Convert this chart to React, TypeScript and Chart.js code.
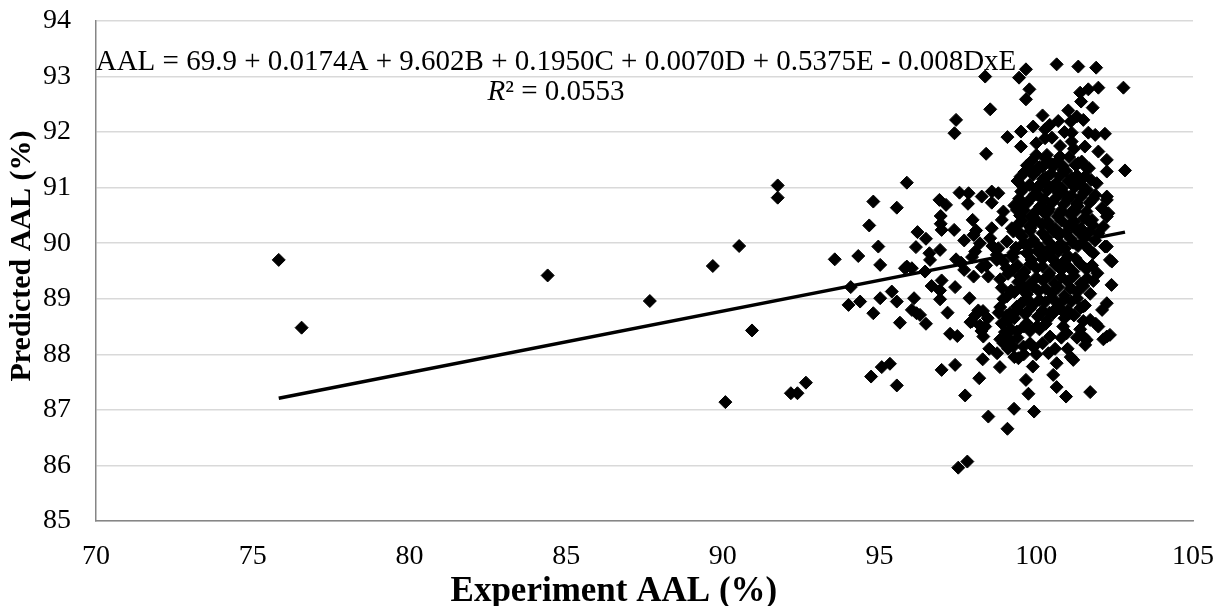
import React, { useEffect, useRef } from "react";
import { Chart, registerables } from "chart.js";

Chart.register(...registerables);

// ---- Data ----
const xTickValues = [70, 75, 80, 85, 90, 95, 100, 105];
const yTickValues = [85, 86, 87, 88, 89, 90, 91, 92, 93, 94];

const experimentAAL = [
  // scattered low-x points
  75.83, 76.56, 84.41, 87.67, 89.68, 90.52, 91.75, 91.75, 90.93, 90.08, 92.17, 92.38, 92.65, 93.57, 94.08,
  // upper left part of cluster
  98.37, 99.45, 99.67, 98.53, 97.44, 97.39, 99.08, 99.51, 99.51, 98.4, 95.87, 94.8, 95.55, 94.67, 94.96, 94.32,
  96.21, 96.48, 96.16, 96.59, 96.91, 97.12, 97.55, 97.84, 97.82, 98.26, 98.58, 98.79, 98.58, 96.95, 96.98, 97.38,
  97.97, 98.08, 98.58, 98.95, 98.9, 99.22, 98.53, 98.05, 99.06, 96.93, 97.44, 95.02, 95.87, 98.74, 99.27, 98.74,
  96.61, 96.95, 98.26, 98.47, 98.74, 98.95, 98.79, 99.06, 99.48, 99.59, 99.38, 99.16,
  97.6, 97.95, 98.4, 98.6, 98.2, 97.7, 98.0,
  // lower left part of cluster
  95.81, 96.03, 96.45, 95.39, 95.55, 95.02, 94.01, 94.38, 94.8, 95.65, 96.1, 96.03, 96.29, 96.48, 96.66, 96.98,
  96.93, 96.93, 97.41, 97.17, 97.25, 97.48, 97.87, 98.0, 97.7, 97.9, 98.05, 98.2, 98.3, 98.15, 98.25, 98.45,
  98.5, 98.75, 98.95, 98.85, 99.1, 99.3, 94.73, 95.07, 95.33, 95.55, 96.98, 97.41, 98.29, 98.18, 97.73, 98.84,
  98.47, 99.08, 99.29, 97.51, 97.8, 98.85, 99.05, 99.2, 99.1, 98.95, 96.18, 97.94, 98.37, 98.31,
  98.9, 99.1, 98.95, 99.2, 99.0, 99.15, 99.3, 98.8, 99.25, 99.05, 98.85, 99.4, 99.6, 99.8, 100.0, 100.2,
  100.6, 100.8, 101.0, 101.3, 101.1,
  // lower right part of cluster
  102.4, 102.25, 102.35, 102.14, 101.61, 101.56, 101.18, 101.72, 100.95, 100.65, 100.54, 100.65, 100.39, 99.89,
  99.67, 99.75, 99.93, 99.43, 99.91, 99.27, 99.6, 99.8, 100.1, 100.3, 100.8, 100.9, 101.2, 101.5, 101.9, 101.4,
  102.1, 98.9, 99.06, 99.38, 99.7, 100.02, 100.34, 100.44, 99.59, 100.86, 100.54, 101.07, 101.5, 101.72, 101.98,
  101.5, 102.25, 100.97, 102.19, 102.41, 102.25, 102.3, 102.14,
  // upper right part of cluster
  100.65, 101.34, 101.91, 102.78, 101.98, 101.66, 101.4, 101.43, 101.8, 101.02, 101.29, 101.5, 100.43, 100.28,
  101.1, 102.19, 101.66, 101.88, 101.13, 100.28, 100.76, 101.13, 101.55, 100.0, 100.34, 100.76, 101.98, 102.25,
  101.34, 102.83, 102.25, 99.89, 100.21, 100.54, 100.86, 100.16, 100.54, 101.43, 101.93, 102.25, 101.88, 99.48,
  99.38, 100.04, 100.25, 100.94, 101.29, 102.09, 102.25, 99.81, 100.39, 100.77, 101.25, 101.78, 99.27, 99.8,
  100.44, 100.76, 101.29, 101.98, 102.25, 101.82, 102.35, 99.78, 99.67,
  100.0, 100.5, 100.9, 101.2, 100.7, 100.2, 99.9,
  // dense core
  99.7, 100.05, 100.4, 100.7, 101.0, 100.2, 100.55, 100.9, 101.25, 99.85,
  99.85, 100.3, 100.62, 101.05, 101.45,
  99.62, 100.08, 100.47, 100.95, 101.3, 101.68,
  99.4, 99.78, 100.22, 100.63, 101.02, 101.4, 101.75,
  99.52, 99.95, 100.35, 100.72, 101.12, 101.52,
  99.3, 99.7, 100.12, 100.52, 100.88, 101.32, 101.7,
  99.48, 99.92, 100.28, 100.68, 101.08, 101.52,
  99.38, 99.82, 100.18, 100.6, 101.02, 101.42, 101.8,
  99.55, 99.9, 100.32, 100.72, 101.1, 101.5, 101.88,
  99.35, 99.75, 100.15, 100.52, 100.92, 101.33, 101.7,
  99.25, 99.62, 100.0, 100.42, 100.8, 101.18, 101.6, 101.95,
  99.42, 99.8, 100.22, 100.58, 101.0, 101.42, 101.82,
  99.3, 99.7, 100.08, 100.5, 100.9, 101.3, 101.72,
  99.52, 99.88, 100.28, 100.7, 101.12, 101.55,
  99.65, 100.05, 100.42,
  99.7, 100.1, 100.5, 100.85, 101.25, 101.6,
  99.5, 99.9, 100.3, 100.75, 101.15, 101.55,
  99.6, 100.0, 100.42, 100.82, 101.22, 101.62,
  99.45, 99.85, 100.25, 100.62, 101.0, 101.42, 101.82,
  99.6, 100.0, 100.4, 100.8, 101.2, 101.6,
  99.55, 99.98, 100.38, 100.8, 101.2, 101.62,
  99.45, 99.8, 100.2, 100.55, 100.95, 101.32, 101.7,
  99.6, 100.0, 100.4, 100.78, 101.18, 101.55,
  99.4, 99.8, 100.2, 100.62, 101.0, 101.4, 101.78,
  99.6, 100.0, 100.4, 100.8, 101.2, 101.62,
  99.5, 99.9, 100.3, 100.7, 101.1, 101.5,
  99.7, 100.1, 100.5, 100.9, 101.3,
  99.4, 99.8, 100.2, 100.6, 101.0, 101.4,
];

const predictedAAL = [
  89.7, 88.48, 89.42, 88.96, 89.59, 89.95, 91.04, 90.82, 88.43, 87.14, 87.3, 87.3, 87.49, 89.71, 89.21,
  93.0, 92.98, 93.13, 92.41, 92.22, 91.98, 91.91, 92.01, 91.74, 91.61, 91.09, 90.75, 90.64, 90.32, 89.94, 89.77,
  90.2, 90.08, 89.93, 89.82, 90.78, 90.69, 90.91, 90.9, 90.71, 90.84, 90.93, 90.9, 90.73, 90.35, 90.24, 90.24,
  90.42, 90.23, 90.27, 90.57, 90.42, 90.27, 90.09, 89.85, 90.03, 89.88, 89.71, 89.61, 89.58, 89.88, 89.83, 89.7,
  89.7, 90.49, 89.57, 89.4, 89.79, 89.67, 89.91, 89.04, 89.4, 89.22, 88.86, 88.74,
  89.65, 89.75, 89.6, 89.95, 90.0, 90.05, 90.15,
  89.55, 89.55, 89.49, 89.13, 88.95, 89.01, 88.89, 88.95, 88.74, 88.57, 89.01, 88.8, 88.71, 88.55, 89.23, 89.33,
  89.15, 88.99, 89.21, 88.75, 88.37, 88.33, 89.01, 89.4, 89.52, 88.58, 88.7, 88.52, 88.78, 88.79, 88.42, 88.65,
  88.1, 88.02, 88.2, 88.27, 88.1, 87.95, 87.6, 87.77, 87.83, 87.44, 87.72, 87.81, 87.91, 87.57, 87.26, 87.77,
  86.88, 86.66, 87.02, 85.96, 86.07, 88.85, 88.7, 88.45, 88.6, 88.55, 88.74, 88.59, 88.5, 88.32,
  89.2, 89.45, 89.0, 89.15, 88.4, 88.25, 88.65, 88.75, 89.75, 89.55, 89.35, 88.3, 88.0, 88.2, 88.0, 88.2,
  88.1, 88.3, 88.1, 88.3, 87.95,
  89.25, 88.92, 88.35, 88.27, 88.26, 88.17, 87.9, 87.32, 87.24, 87.41, 87.63, 87.84, 88.02, 87.78,
  87.54, 87.29, 86.97, 87.93, 88.13, 88.14, 88.5, 88.42, 88.45, 88.55, 88.8, 88.65, 88.7, 88.6, 88.55, 88.45,
  88.8, 88.56, 88.32, 88.41, 88.56, 88.5, 88.62, 88.32, 88.14, 88.5, 88.74, 88.74, 88.86, 88.62, 88.5,
  88.32, 88.32, 88.38, 89.94, 89.67, 90.78, 90.54, 90.3,
  93.22, 93.18, 93.16, 92.8, 92.8, 92.77, 92.71, 92.55, 92.44, 92.39, 92.28, 92.22, 92.13, 92.05,
  92.19, 91.97, 91.99, 91.95, 91.99, 91.89, 91.75, 91.83, 91.74, 91.59, 91.59, 91.56, 91.65, 91.5,
  91.44, 91.31, 91.29, 91.29, 91.38, 91.38, 91.32, 91.08, 91.02, 91.05, 91.08, 90.84, 90.87, 90.75,
  90.6, 90.87, 90.78, 90.87, 90.72, 90.63, 90.48, 90.48, 90.57, 90.54, 90.57, 90.42, 90.21, 90.3,
  90.3, 90.18, 90.24, 90.18, 89.94, 89.82, 89.7, 92.77, 92.59,
  91.8, 91.9, 92.0, 91.7, 92.2, 92.3, 92.1,
  89.82, 89.85, 89.82, 89.85, 89.78, 89.72, 89.7, 89.68, 89.73, 89.7,
  91.48, 91.52, 91.45, 91.55, 91.47,
  91.28, 91.33, 91.25, 91.3, 91.22, 91.35,
  91.12, 91.05, 91.15, 91.08, 91.12, 91.06, 91.14,
  90.93, 90.88, 90.95, 90.9, 90.86, 90.92,
  90.68, 90.72, 90.66, 90.74, 90.7, 90.67, 90.73,
  90.5, 90.46, 90.53, 90.48, 90.52, 90.45,
  90.32, 90.28, 90.34, 90.26, 90.31, 90.27, 90.33,
  90.12, 90.06, 90.1, 90.14, 90.08, 90.11, 90.05,
  89.92, 89.96, 89.9, 89.94, 89.91, 89.95, 89.88,
  89.52, 89.48, 89.55, 89.46, 89.52, 89.49, 89.53, 89.46,
  89.3, 89.26, 89.33, 89.28, 89.31, 89.27, 89.32,
  89.12, 89.08, 89.14, 89.1, 89.06, 89.12, 89.09,
  88.92, 88.88, 88.94, 88.9, 88.95, 88.88,
  88.72, 88.68, 88.75,
  91.4, 91.37, 91.42, 91.39, 91.41, 91.36,
  91.2, 91.23, 91.18, 91.21, 91.17, 91.2,
  91.0, 90.97, 91.02, 90.99, 91.01, 90.96,
  90.8, 90.82, 90.78, 90.81, 90.79, 90.83, 90.8,
  90.6, 90.58, 90.62, 90.59, 90.61, 90.57,
  90.4, 90.42, 90.38, 90.41, 90.39, 90.43,
  90.2, 90.22, 90.18, 90.21, 90.19, 90.23, 90.2,
  90.0, 89.98, 90.02, 89.99, 90.01, 89.97,
  89.6, 89.62, 89.58, 89.61, 89.59, 89.63, 89.6,
  89.4, 89.38, 89.42, 89.39, 89.41, 89.37,
  89.2, 89.22, 89.18, 89.21, 89.19, 89.23,
  89.0, 88.98, 89.02, 88.99, 89.01,
  88.8, 88.82, 88.78, 88.81, 88.79, 88.83,
];

// Linear trendline end points (Excel trendline)
const trendX = [75.83, 102.83];
const trendY = [87.21, 90.2];

const equationText = "AAL = 69.9 + 0.0174A + 9.602B + 0.1950C + 0.0070D + 0.5375E - 0.008DxE";
const r2Label = "R";
const r2Rest = "\u00B2 = 0.0553";

// padding spaces shift the Excel-style titles off the plot centre, as in the original
const xTitle = "Experiment AAL (%)       ";
const yTitle = "    Predicted AAL (%)";

const FONT = '"Liberation Serif", "Times New Roman", serif';

const equationPlugin = {
  id: "equationLabel",
  afterDatasetsDraw(chart: any) {
    const { ctx, chartArea } = chart;
    ctx.save();
    ctx.fillStyle = "#000";
    ctx.textBaseline = "middle";
    const cx = chartArea.left + 460;
    ctx.font = `29px ${FONT}`;
    ctx.textAlign = "center";
    ctx.fillText(equationText, cx, chartArea.top + 41);
    ctx.textAlign = "left";
    ctx.font = `italic 29px ${FONT}`;
    const wR = ctx.measureText(r2Label).width;
    ctx.font = `29px ${FONT}`;
    const wRest = ctx.measureText(r2Rest).width;
    const start = cx - (wR + wRest) / 2;
    ctx.font = `italic 29px ${FONT}`;
    ctx.fillText(r2Label, start, chartArea.top + 71);
    ctx.font = `29px ${FONT}`;
    ctx.fillText(r2Rest, start + wR, chartArea.top + 71);
    ctx.restore();
  },
};

export default function App() {
  const canvasRef = useRef<HTMLCanvasElement | null>(null);

  useEffect(() => {
    if (!canvasRef.current) return;
    const points = experimentAAL.map((x, i) => ({ x, y: predictedAAL[i] }));
    const trend = trendX.map((x, i) => ({ x, y: trendY[i] }));
    const chart = new Chart(canvasRef.current, {
      type: "scatter",
      data: {
        datasets: [
          {
            label: "Trendline",
            data: trend,
            showLine: true,
            borderColor: "#000",
            borderWidth: 3.5,
            pointRadius: 0,
            fill: false,
          },
          {
            label: "AAL",
            data: points,
            pointStyle: "rectRot",
            pointRadius: 6.5,
            borderWidth: 1,
            backgroundColor: "#000",
            borderColor: "#000",
          },
        ],
      },
      options: {
        responsive: false,
        animation: false,
        layout: { padding: { top: 21, right: 32, left: 0, bottom: 0 } },
        plugins: {
          legend: { display: false },
          tooltip: { enabled: false },
        },
        scales: {
          x: {
            type: "linear",
            min: 70,
            max: 105,
            afterBuildTicks: (scale: any) => {
              scale.ticks = xTickValues.map((v) => ({ value: v }));
            },
            ticks: {
              color: "#000",
              font: { family: FONT, size: 28, lineHeight: 1 },
              padding: 0,
              maxRotation: 0,
            },
            grid: {
              display: true,
              drawOnChartArea: false,
              drawTicks: true,
              tickLength: 22,
              color: "rgba(0,0,0,0)",
              tickColor: "rgba(0,0,0,0)",
            },
            border: { display: true, color: "#868686", width: 1.5 },
            title: {
              display: true,
              text: xTitle,
              color: "#000",
              font: { family: FONT, size: 35, weight: "bold", lineHeight: 0.8 },
              padding: { top: 0, bottom: 0 },
            },
            afterFit: (scale: any) => {
              scale.height = 85;
            },
          },
          y: {
            type: "linear",
            min: 85,
            max: 94,
            afterBuildTicks: (scale: any) => {
              scale.ticks = yTickValues.map((v) => ({ value: v }));
            },
            ticks: {
              color: "#000",
              font: { family: FONT, size: 28, lineHeight: 1 },
              padding: 0,
            },
            grid: {
              color: "#d9d9d9",
              lineWidth: 1.5,
              drawTicks: true,
              tickLength: 25,
              tickColor: "rgba(0,0,0,0)",
            },
            border: { display: true, color: "#868686", width: 1.5 },
            title: {
              display: true,
              text: yTitle,
              color: "#000",
              font: { family: FONT, size: 30, weight: "bold", lineHeight: 1 },
              padding: { top: 7, bottom: 0 },
            },
            afterFit: (scale: any) => {
              scale.width = 96;
            },
          },
        },
      },
      plugins: [equationPlugin],
    });
    return () => chart.destroy();
  }, []);

  return (
    <div style={{ position: "absolute", left: 0, top: 0, width: 1225, height: 606, background: "#fff" }}>
      <canvas ref={canvasRef} width={1225} height={606} />
    </div>
  );
}
